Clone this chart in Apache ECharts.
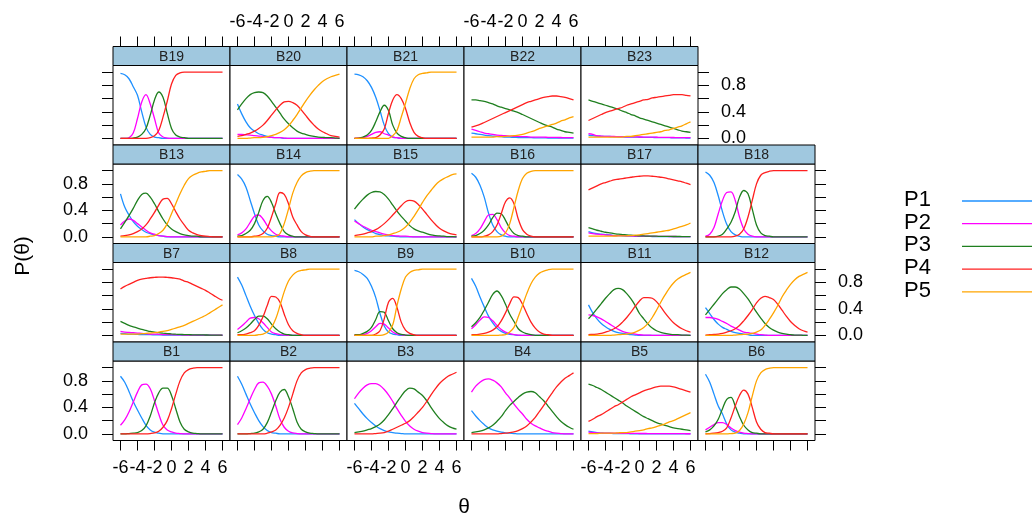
<!DOCTYPE html>
<html>
<head>
<meta charset="utf-8">
<script src="https://cdn.jsdelivr.net/npm/echarts@6/dist/echarts.min.js"></script>
<style>html,body{margin:0;padding:0;background:#fff}#chart{width:1035px;height:521px}</style>
</head>
<body>
<div id="chart"></div>
<script>
// theta grid (x values of every curve)
const theta = [-6,-5.5,-5,-4.5,-4,-3.5,-3,-2.5,-2,-1.5,-1,-0.5,0,0.5,1,1.5,2,2.5,3,3.5,4,4.5,5,5.5,6];
const categories = ['P1','P2','P3','P4','P5'];
const xTicks = [-6,-4,-2,0,2,4,6];
const yTicks = [0,0.2,0.4,0.6,0.8,1.0];
const yLabels = [0,0.4,0.8];

// each item: [P1, P2, P3, P4, P5] values at theta (null = category absent)
const B1 = [
 [0.87,0.78,0.64,0.49,0.36,0.24,0.13,0.06,0.025,0.01,0,0,0,0,0,0,0,0,0,0,0,0,0,0,0],
 [0.13,0.21,0.33,0.48,0.63,0.74,0.75,0.68,0.5,0.3,0.13,0.06,0.03,0.01,0.005,0,0,0,0,0,0,0,0,0,0],
 [0,0,0.005,0.01,0.02,0.05,0.12,0.27,0.47,0.62,0.69,0.69,0.58,0.38,0.18,0.07,0.03,0.01,0.005,0,0,0,0,0,0],
 [0,0,0,0,0,0,0,0.005,0.015,0.04,0.1,0.2,0.38,0.6,0.8,0.92,0.97,0.99,1,1,1,1,1,1,1],
 null];
const B2 = [
 [0.87,0.75,0.6,0.45,0.32,0.2,0.11,0.05,0.02,0.01,0,0,0,0,0,0,0,0,0,0,0,0,0,0,0],
 [0.14,0.24,0.38,0.53,0.67,0.77,0.78,0.72,0.6,0.42,0.22,0.1,0.04,0.015,0.005,0,0,0,0,0,0,0,0,0,0],
 [0,0,0,0.005,0.01,0.03,0.07,0.17,0.33,0.5,0.63,0.67,0.56,0.38,0.18,0.07,0.03,0.01,0.005,0,0,0,0,0,0],
 [0,0,0,0,0,0,0,0.01,0.03,0.06,0.13,0.24,0.4,0.6,0.8,0.92,0.97,0.99,1,1,1,1,1,1,1],
 null];
const B3 = [
 [0.46,0.38,0.3,0.23,0.17,0.12,0.08,0.05,0.03,0.02,0.01,0.005,0,0,0,0,0,0,0,0,0,0,0,0,0],
 [0.53,0.62,0.69,0.74,0.76,0.76,0.73,0.67,0.59,0.49,0.38,0.28,0.19,0.12,0.07,0.04,0.02,0.01,0.005,0,0,0,0,0,0],
 [0.02,0.03,0.04,0.06,0.08,0.11,0.15,0.21,0.29,0.38,0.48,0.57,0.65,0.69,0.68,0.63,0.58,0.5,0.4,0.31,0.23,0.17,0.12,0.09,0.07],
 [0,0,0,0,0,0.005,0.01,0.02,0.04,0.07,0.1,0.13,0.16,0.2,0.26,0.33,0.4,0.49,0.59,0.68,0.76,0.82,0.87,0.9,0.93],
 null];
const B4 = [
 [0.35,0.27,0.2,0.14,0.09,0.06,0.04,0.025,0.015,0.01,0.005,0,0,0,0,0,0,0,0,0,0,0,0,0,0],
 [0.63,0.72,0.78,0.82,0.83,0.81,0.77,0.71,0.62,0.54,0.45,0.37,0.3,0.22,0.16,0.12,0.09,0.06,0.04,0.02,0.01,0.005,0,0,0],
 [0.02,0.03,0.04,0.06,0.09,0.13,0.19,0.26,0.35,0.43,0.49,0.55,0.6,0.63,0.64,0.62,0.56,0.5,0.42,0.34,0.26,0.19,0.14,0.1,0.07],
 [0,0,0,0,0,0,0,0.005,0.01,0.02,0.03,0.05,0.08,0.12,0.18,0.25,0.34,0.43,0.53,0.62,0.71,0.78,0.84,0.88,0.92],
 null];
const B5 = [
 [0.04,0.03,0.02,0.015,0.01,0.01,0.005,0.005,0.005,0.005,0,0,0,0,0,0,0,0,0,0,0,0,0,0,0],
 [0.025,0.02,0.015,0.012,0.01,0.01,0.01,0.01,0.008,0.008,0.007,0.007,0.006,0.006,0.005,0.005,0.005,0.004,0.004,0.004,0.003,0.003,0.003,0.002,0.002],
 [0.75,0.73,0.7,0.67,0.63,0.59,0.55,0.51,0.47,0.42,0.38,0.34,0.3,0.26,0.23,0.2,0.17,0.15,0.13,0.11,0.09,0.08,0.07,0.06,0.05],
 [0.19,0.22,0.26,0.29,0.33,0.37,0.41,0.44,0.48,0.52,0.56,0.59,0.62,0.65,0.67,0.69,0.71,0.72,0.72,0.72,0.71,0.69,0.67,0.65,0.63],
 [0.005,0.005,0.005,0.01,0.01,0.01,0.01,0.015,0.02,0.02,0.03,0.04,0.05,0.06,0.08,0.09,0.11,0.13,0.15,0.18,0.2,0.23,0.26,0.29,0.32]];
const B6 = [
 [0.9,0.78,0.6,0.42,0.3,0.15,0.06,0.025,0.01,0,0,0,0,0,0,0,0,0,0,0,0,0,0,0,0],
 [0.06,0.1,0.14,0.17,0.17,0.14,0.09,0.05,0.025,0.01,0.005,0,0,0,0,0,0,0,0,0,0,0,0,0,0],
 [0.03,0.06,0.12,0.22,0.38,0.52,0.55,0.42,0.26,0.13,0.06,0.02,0.01,0,0,0,0,0,0,0,0,0,0,0,0],
 [0,0.005,0.01,0.02,0.04,0.09,0.24,0.42,0.58,0.66,0.6,0.4,0.18,0.07,0.02,0.01,0,0,0,0,0,0,0,0,0],
 [0,0,0,0,0,0,0.005,0.01,0.05,0.15,0.32,0.57,0.8,0.92,0.97,0.99,1,1,1,1,1,1,1,1,1]];
const B7 = [
 [0.03,0.025,0.02,0.018,0.015,0.012,0.01,0.01,0.008,0.007,0.006,0.005,0.005,0.004,0.004,0.003,0.003,0.003,0.002,0.002,0.002,0.002,0.001,0.001,0.001],
 [0.06,0.05,0.045,0.04,0.035,0.03,0.025,0.02,0.02,0.015,0.012,0.01,0.01,0.008,0.007,0.006,0.005,0.005,0.004,0.004,0.003,0.003,0.003,0.002,0.002],
 [0.21,0.18,0.15,0.13,0.11,0.09,0.075,0.06,0.05,0.04,0.033,0.027,0.022,0.018,0.015,0.012,0.01,0.009,0.008,0.007,0.006,0.005,0.005,0.004,0.004],
 [0.7,0.74,0.77,0.8,0.83,0.85,0.86,0.87,0.875,0.88,0.88,0.875,0.87,0.86,0.85,0.82,0.8,0.77,0.74,0.71,0.68,0.64,0.6,0.56,0.53],
 [0.02,0.02,0.02,0.02,0.02,0.025,0.03,0.035,0.04,0.05,0.06,0.07,0.09,0.11,0.13,0.15,0.18,0.21,0.24,0.27,0.3,0.34,0.38,0.42,0.46]];
const B8 = [
 [0.88,0.76,0.6,0.44,0.3,0.18,0.09,0.04,0.02,0.01,0,0,0,0,0,0,0,0,0,0,0,0,0,0,0],
 [0.09,0.14,0.2,0.26,0.27,0.25,0.19,0.12,0.05,0.025,0.01,0.005,0,0,0,0,0,0,0,0,0,0,0,0,0],
 [0.04,0.07,0.11,0.17,0.24,0.29,0.29,0.25,0.17,0.1,0.05,0.02,0.01,0,0,0,0,0,0,0,0,0,0,0,0],
 [0.01,0.01,0.02,0.04,0.07,0.15,0.28,0.45,0.59,0.58,0.5,0.32,0.16,0.07,0.03,0.01,0,0,0,0,0,0,0,0,0],
 [0,0,0,0,0,0.01,0.02,0.05,0.12,0.25,0.45,0.66,0.82,0.91,0.96,0.98,0.99,1,1,1,1,1,1,1,1]];
const B9 = [
 [0.98,0.96,0.92,0.86,0.74,0.57,0.33,0.14,0.05,0.02,0.01,0,0,0,0,0,0,0,0,0,0,0,0,0,0],
 [0,0.005,0.01,0.03,0.07,0.13,0.18,0.17,0.11,0.05,0.02,0.01,0,0,0,0,0,0,0,0,0,0,0,0,0],
 [0.01,0.01,0.03,0.06,0.12,0.24,0.36,0.35,0.22,0.1,0.04,0.015,0.005,0,0,0,0,0,0,0,0,0,0,0,0],
 [0,0,0,0,0,0.02,0.07,0.25,0.5,0.56,0.42,0.2,0.08,0.03,0.01,0,0,0,0,0,0,0,0,0,0],
 [0,0,0,0,0,0,0,0.01,0.05,0.16,0.45,0.7,0.88,0.95,0.98,0.99,1,1,1,1,1,1,1,1,1]];
const B10 = [
 [0.86,0.74,0.58,0.43,0.29,0.19,0.11,0.06,0.03,0.015,0.01,0,0,0,0,0,0,0,0,0,0,0,0,0,0],
 [0.1,0.16,0.23,0.28,0.27,0.22,0.15,0.09,0.05,0.025,0.01,0.005,0,0,0,0,0,0,0,0,0,0,0,0,0],
 [0.13,0.19,0.27,0.38,0.5,0.62,0.67,0.6,0.47,0.32,0.21,0.1,0.05,0.025,0.01,0,0,0,0,0,0,0,0,0,0],
 [0.01,0.01,0.02,0.03,0.05,0.08,0.13,0.22,0.34,0.48,0.58,0.57,0.47,0.33,0.2,0.11,0.05,0.02,0.01,0,0,0,0,0,0],
 [0,0,0,0,0,0,0,0.005,0.01,0.05,0.12,0.28,0.45,0.63,0.78,0.88,0.94,0.97,0.99,1,1,1,1,1,1]];
const B11 = [
 [0.46,0.34,0.25,0.18,0.13,0.09,0.06,0.04,0.03,0.02,0.01,0.005,0,0,0,0,0,0,0,0,0,0,0,0,0],
 [0.31,0.3,0.28,0.25,0.21,0.17,0.13,0.09,0.06,0.04,0.03,0.02,0.01,0.005,0.005,0,0,0,0,0,0,0,0,0,0],
 [0.25,0.32,0.4,0.48,0.56,0.63,0.69,0.71,0.69,0.63,0.55,0.45,0.33,0.25,0.17,0.11,0.07,0.045,0.03,0.02,0.01,0.01,0.005,0.005,0],
 [0.01,0.015,0.02,0.03,0.05,0.07,0.1,0.14,0.2,0.27,0.35,0.44,0.52,0.57,0.57,0.56,0.51,0.43,0.34,0.26,0.19,0.14,0.1,0.07,0.05],
 [0,0,0,0,0,0,0.005,0.01,0.015,0.02,0.03,0.05,0.08,0.12,0.18,0.27,0.38,0.5,0.61,0.71,0.79,0.85,0.89,0.92,0.95]];
const B12 = [
 [0.42,0.33,0.24,0.17,0.12,0.09,0.06,0.04,0.03,0.02,0.01,0,0,0,0,0,0,0,0,0,0,0,0,0,0],
 [0.27,0.27,0.26,0.24,0.21,0.18,0.14,0.11,0.08,0.05,0.04,0.03,0.02,0.01,0.005,0,0,0,0,0,0,0,0,0,0],
 [0.31,0.39,0.47,0.55,0.63,0.69,0.73,0.73,0.7,0.63,0.55,0.45,0.35,0.26,0.18,0.12,0.08,0.05,0.03,0.02,0.01,0.005,0.005,0,0],
 [0.005,0.01,0.015,0.02,0.03,0.05,0.07,0.1,0.15,0.22,0.3,0.39,0.49,0.56,0.59,0.57,0.54,0.47,0.38,0.29,0.21,0.15,0.1,0.07,0.05],
 [0,0,0,0,0,0,0,0.005,0.01,0.015,0.02,0.03,0.05,0.08,0.15,0.24,0.34,0.45,0.58,0.68,0.77,0.84,0.89,0.92,0.95]];
const B13 = [
 [0.65,0.45,0.33,0.23,0.16,0.11,0.07,0.05,0.03,0.02,0.01,0,0,0,0,0,0,0,0,0,0,0,0,0,0],
 [0.18,0.24,0.27,0.25,0.2,0.15,0.1,0.06,0.04,0.02,0.01,0.005,0,0,0,0,0,0,0,0,0,0,0,0,0],
 [0.12,0.22,0.32,0.43,0.55,0.64,0.66,0.6,0.5,0.38,0.27,0.18,0.12,0.08,0.05,0.03,0.02,0.01,0.01,0,0,0,0,0,0],
 [0.01,0.02,0.03,0.05,0.08,0.12,0.18,0.27,0.37,0.48,0.57,0.58,0.5,0.38,0.27,0.18,0.1,0.06,0.035,0.02,0.01,0.005,0,0,0],
 [0,0,0,0,0,0,0,0.01,0.02,0.05,0.1,0.2,0.35,0.5,0.65,0.78,0.88,0.93,0.96,0.98,0.99,1,1,1,1]];
const B14 = [
 [0.94,0.87,0.75,0.55,0.35,0.18,0.09,0.04,0.02,0.01,0,0,0,0,0,0,0,0,0,0,0,0,0,0,0],
 [0.03,0.06,0.12,0.22,0.31,0.33,0.27,0.17,0.09,0.04,0.02,0.01,0,0,0,0,0,0,0,0,0,0,0,0,0],
 [0.01,0.02,0.05,0.1,0.2,0.37,0.55,0.61,0.52,0.35,0.2,0.08,0.03,0.01,0,0,0,0,0,0,0,0,0,0,0],
 [0,0,0,0,0.01,0.02,0.05,0.13,0.3,0.5,0.67,0.64,0.5,0.3,0.18,0.08,0.03,0.01,0,0,0,0,0,0,0],
 [0,0,0,0,0,0,0,0,0,0.01,0.05,0.2,0.42,0.66,0.82,0.92,0.97,0.99,1,1,1,1,1,1,1]];
const B15 = [
 [0.26,0.2,0.15,0.11,0.08,0.05,0.035,0.02,0.015,0.01,0.005,0,0,0,0,0,0,0,0,0,0,0,0,0,0],
 [0.24,0.2,0.16,0.13,0.1,0.08,0.06,0.04,0.03,0.02,0.015,0.01,0.01,0.005,0,0,0,0,0,0,0,0,0,0,0],
 [0.42,0.5,0.57,0.63,0.67,0.685,0.68,0.64,0.57,0.48,0.39,0.31,0.24,0.17,0.12,0.09,0.07,0.05,0.03,0.02,0.015,0.01,0.005,0.005,0],
 [0.02,0.03,0.04,0.06,0.08,0.11,0.15,0.2,0.26,0.33,0.4,0.47,0.53,0.55,0.54,0.49,0.42,0.34,0.26,0.19,0.13,0.09,0.06,0.04,0.03],
 [0,0,0,0,0,0.01,0.01,0.02,0.03,0.05,0.07,0.1,0.15,0.22,0.31,0.41,0.52,0.62,0.7,0.78,0.84,0.88,0.91,0.94,0.95]];
const B16 = [
 [0.96,0.9,0.78,0.6,0.36,0.18,0.08,0.03,0.01,0,0,0,0,0,0,0,0,0,0,0,0,0,0,0,0],
 [0.02,0.05,0.12,0.23,0.33,0.34,0.26,0.14,0.06,0.02,0.01,0,0,0,0,0,0,0,0,0,0,0,0,0,0],
 [0.01,0.02,0.05,0.1,0.18,0.29,0.36,0.35,0.25,0.13,0.05,0.02,0.01,0,0,0,0,0,0,0,0,0,0,0,0],
 [0,0,0,0.01,0.03,0.08,0.18,0.35,0.53,0.59,0.5,0.27,0.11,0.04,0.01,0,0,0,0,0,0,0,0,0,0],
 [0,0,0,0,0,0,0,0.01,0.06,0.2,0.45,0.7,0.88,0.96,0.99,1,1,1,1,1,1,1,1,1,1]];
const B17 = [
 [0.08,0.06,0.05,0.04,0.035,0.03,0.02,0.02,0.015,0.012,0.01,0.01,0.01,0.008,0.007,0.006,0.005,0.005,0.005,0.004,0.004,0.004,0.003,0.003,0.003],
 [0.06,0.05,0.04,0.035,0.03,0.025,0.02,0.02,0.02,0.015,0.015,0.012,0.01,0.01,0.01,0.008,0.008,0.007,0.007,0.006,0.006,0.005,0.005,0.005,0.005],
 [0.14,0.12,0.1,0.085,0.07,0.06,0.05,0.04,0.035,0.03,0.025,0.02,0.015,0.015,0.01,0.01,0.01,0.008,0.008,0.007,0.006,0.006,0.005,0.005,0.005],
 [0.71,0.74,0.77,0.8,0.82,0.84,0.86,0.87,0.88,0.89,0.9,0.91,0.915,0.92,0.92,0.915,0.91,0.9,0.89,0.875,0.86,0.845,0.83,0.81,0.79],
 [0.01,0.01,0.01,0.01,0.012,0.012,0.013,0.014,0.015,0.017,0.02,0.025,0.03,0.04,0.05,0.06,0.07,0.08,0.09,0.1,0.12,0.14,0.16,0.18,0.21]];
const B18 = [
 [0.98,0.93,0.82,0.62,0.38,0.19,0.08,0.03,0.01,0,0,0,0,0,0,0,0,0,0,0,0,0,0,0,0],
 [0.01,0.04,0.14,0.35,0.55,0.67,0.68,0.55,0.3,0.12,0.04,0.01,0,0,0,0,0,0,0,0,0,0,0,0,0],
 [0,0,0,0.01,0.04,0.12,0.22,0.38,0.6,0.7,0.65,0.42,0.18,0.06,0.02,0.01,0,0,0,0,0,0,0,0,0],
 [0,0,0,0,0,0,0,0.01,0.04,0.12,0.3,0.55,0.8,0.93,0.97,0.99,1,1,1,1,1,1,1,1,1],
 null];
const B19 = [
 [0.98,0.96,0.9,0.78,0.65,0.4,0.17,0.06,0.02,0.01,0,0,0,0,0,0,0,0,0,0,0,0,0,0,0],
 [0,0,0.01,0.08,0.3,0.55,0.66,0.52,0.3,0.08,0.02,0.005,0,0,0,0,0,0,0,0,0,0,0,0,0],
 [0,0,0,0.005,0.02,0.06,0.15,0.35,0.58,0.7,0.62,0.38,0.15,0.05,0.02,0.01,0,0,0,0,0,0,0,0,0],
 [0,0,0,0,0,0,0,0.01,0.04,0.12,0.32,0.56,0.82,0.95,0.99,1,1,1,1,1,1,1,1,1,1],
 null];
const B20 = [
 [0.52,0.37,0.25,0.16,0.11,0.07,0.05,0.03,0.02,0.01,0.01,0,0,0,0,0,0,0,0,0,0,0,0,0,0],
 [0.06,0.06,0.055,0.05,0.04,0.035,0.03,0.02,0.015,0.01,0.01,0.005,0,0,0,0,0,0,0,0,0,0,0,0,0],
 [0.43,0.52,0.6,0.66,0.69,0.7,0.69,0.64,0.56,0.47,0.38,0.29,0.22,0.16,0.11,0.08,0.06,0.04,0.03,0.02,0.015,0.01,0.01,0.005,0],
 [0.03,0.04,0.06,0.08,0.11,0.15,0.2,0.27,0.35,0.43,0.5,0.55,0.56,0.54,0.5,0.43,0.35,0.27,0.2,0.14,0.1,0.07,0.04,0.03,0.02],
 [0,0,0,0.005,0.01,0.01,0.015,0.025,0.04,0.06,0.09,0.13,0.19,0.27,0.36,0.46,0.56,0.65,0.73,0.8,0.86,0.9,0.93,0.95,0.97]];
const B21 = [
 [0.97,0.96,0.93,0.87,0.77,0.62,0.42,0.2,0.07,0.02,0.01,0,0,0,0,0,0,0,0,0,0,0,0,0,0],
 [0,0.005,0.01,0.03,0.06,0.09,0.1,0.07,0.05,0.02,0.01,0,0,0,0,0,0,0,0,0,0,0,0,0,0],
 [0,0.005,0.02,0.05,0.12,0.25,0.4,0.5,0.42,0.2,0.08,0.03,0.01,0,0,0,0,0,0,0,0,0,0,0,0],
 [0,0,0,0,0.005,0.01,0.05,0.14,0.38,0.58,0.66,0.6,0.45,0.24,0.09,0.03,0.01,0,0,0,0,0,0,0,0],
 [0,0,0,0,0,0,0,0,0,0.04,0.12,0.32,0.53,0.75,0.9,0.96,0.98,0.99,1,1,1,1,1,1,1]];
const B22 = [
 [0.08,0.07,0.06,0.05,0.04,0.035,0.03,0.025,0.02,0.018,0.015,0.013,0.012,0.01,0.01,0.009,0.008,0.007,0.006,0.005,0.005,0.004,0.004,0.003,0.003],
 [0.14,0.12,0.1,0.08,0.07,0.06,0.05,0.045,0.04,0.035,0.03,0.03,0.025,0.025,0.02,0.02,0.02,0.018,0.016,0.015,0.014,0.013,0.012,0.011,0.01],
 [0.58,0.58,0.57,0.56,0.54,0.52,0.49,0.47,0.45,0.43,0.41,0.39,0.36,0.33,0.3,0.27,0.24,0.21,0.19,0.17,0.14,0.12,0.1,0.09,0.08],
 [0.17,0.19,0.21,0.24,0.27,0.3,0.33,0.36,0.39,0.42,0.45,0.48,0.51,0.54,0.56,0.58,0.6,0.62,0.63,0.64,0.64,0.63,0.62,0.6,0.58],
 [0.02,0.02,0.02,0.02,0.02,0.02,0.025,0.025,0.03,0.035,0.04,0.05,0.06,0.08,0.1,0.12,0.15,0.17,0.19,0.21,0.23,0.26,0.28,0.31,0.33]];
const B23 = [
 [0.05,0.04,0.035,0.032,0.03,0.028,0.026,0.024,0.022,0.02,0.019,0.018,0.017,0.016,0.015,0.014,0.013,0.012,0.011,0.01,0.009,0.008,0.007,0.006,0.005],
 [0.07,0.06,0.04,0.035,0.03,0.03,0.028,0.026,0.025,0.024,0.023,0.022,0.021,0.02,0.019,0.018,0.017,0.016,0.015,0.014,0.013,0.012,0.011,0.01,0.01],
 [0.58,0.56,0.54,0.52,0.5,0.48,0.46,0.44,0.41,0.39,0.36,0.34,0.31,0.29,0.27,0.25,0.23,0.21,0.19,0.17,0.15,0.13,0.11,0.1,0.09],
 [0.27,0.3,0.33,0.36,0.39,0.41,0.43,0.45,0.47,0.5,0.52,0.54,0.56,0.58,0.59,0.61,0.62,0.63,0.64,0.65,0.66,0.66,0.66,0.65,0.64],
 [0.02,0.02,0.02,0.02,0.02,0.02,0.02,0.02,0.02,0.03,0.03,0.04,0.05,0.06,0.07,0.08,0.09,0.1,0.12,0.13,0.15,0.17,0.19,0.22,0.25]];

const items = [B1,B2,B3,B4,B5,B6,B7,B8,B9,B10,B11,B12,B13,B14,B15,B16,B17,B18,B19,B20,B21,B22,B23];
const itemNames = ['B1','B2','B3','B4','B5','B6','B7','B8','B9','B10','B11','B12','B13','B14','B15','B16','B17','B18','B19','B20','B21','B22','B23'];

// ---- styling / layout ----
const colors = ['#1E90FF','#FF00FF','#1F7F1F','#FF2020','#FFA500'];
const FONT = 'Liberation Sans, Arial, sans-serif';
const X0 = 113, CW = 117, Y0 = 46.5, RH = 98.5, SH = 19, NCOL = 6, NROW = 4;
const XMIN = -6.88, XMAX = 6.88, YMIN = -0.1, YMAX = 1.1;
const STRIP = '#A0C8DF';

const grids = [], xAxes = [], yAxes = [], series = [], graphics = [];
const axisLabelBase = {color:'#000', fontSize:18, fontFamily:FONT};

items.forEach((curves, i) => {
  const r = Math.floor(i / NCOL);
  const c = i % NCOL;
  const row = NROW - 1 - r;
  const left = X0 + c * CW;
  const top = Y0 + row * RH;
  grids.push({left: left, top: top + SH, width: CW, height: RH - SH,
    show: true, borderColor: '#000', borderWidth: 1, backgroundColor: '#fff', containLabel: false});

  const topRow = row === 0, bottomRow = row === NROW - 1;
  const xShow = topRow || bottomRow;
  const xLab = (topRow && (c === 1 || c === 3)) || (bottomRow && (c === 0 || c === 2 || c === 4));
  xAxes.push({type:'value', gridIndex:i, min:XMIN, max:XMAX, show:xShow,
    position: topRow ? 'top' : 'bottom', offset: topRow ? SH : 0,
    axisLine:{show:false, onZero:false}, splitLine:{show:false},
    axisTick:{show:true, customValues:xTicks, length:10, lineStyle:{color:'#000', width:1}},
    axisLabel:Object.assign({}, axisLabelBase, {show:xLab, customValues:xTicks, margin: topRow ? 15 : 19,
      formatter: v => String(v)})});

  const lastInRow = (row === 0) ? (c === 4) : (c === 5);
  const yLeft = c === 0, yRight = lastInRow;
  const yShow = yLeft || yRight;
  const yLab = (yLeft && (row === 1 || row === 3)) || (yRight && (row === 0 || row === 2));
  yAxes.push({type:'value', gridIndex:i, min:YMIN, max:YMAX, show:yShow,
    position: yLeft ? 'left' : 'right',
    axisLine:{show:false, onZero:false}, splitLine:{show:false},
    axisTick:{show:true, customValues:yTicks, length:11, lineStyle:{color:'#000', width:1}},
    axisLabel:Object.assign({}, axisLabelBase, {show:yLab, customValues:yLabels, margin: yLeft ? 25 : 23,
      formatter: v => v.toFixed(1)})});

  curves.forEach((vals, k) => {
    if (!vals) return;
    series.push({type:'line', name:categories[k], xAxisIndex:i, yAxisIndex:i,
      data: theta.map((t, j) => [t, vals[j]]),
      showSymbol:false, smooth:0.35, silent:true, animation:false,
      lineStyle:{color:colors[k], width:1.3}, itemStyle:{color:colors[k]}});
  });

  graphics.push({type:'rect', shape:{x:left, y:top, width:CW, height:SH},
    style:{fill:STRIP, stroke:'#000', lineWidth:1}, z:10});
  graphics.push({type:'text', x:left + CW/2, y:top + SH/2 + 1,
    style:{text:itemNames[i], fill:'#222', font:'14px ' + FONT, textAlign:'center', textVerticalAlign:'middle'}, z:11});
});

// axis titles
graphics.push({type:'text', x:464, y:507, style:{text:'θ', fill:'#000', font:'21px ' + FONT, textAlign:'center', textVerticalAlign:'middle'}});
graphics.push({type:'text', x:23, y:256, rotation:Math.PI/2,
  style:{text:'P(θ)', fill:'#000', font:'21px ' + FONT, textAlign:'center', textVerticalAlign:'middle'}});

// key
categories.forEach((name, k) => {
  const y = 200 + k * 22.7;
  graphics.push({type:'text', x:904, y:y, style:{text:name, fill:'#000', font:'22px ' + FONT, textAlign:'left', textVerticalAlign:'middle'}});
  graphics.push({type:'line', shape:{x1:962, y1:y + 1, x2:1032, y2:y + 1}, style:{stroke:colors[k], lineWidth:1.3}});
});

const chart = echarts.init(document.getElementById('chart'), null, {renderer:'canvas'});
chart.setOption({
  animation:false,
  backgroundColor:'#fff',
  grid:grids, xAxis:xAxes, yAxis:yAxes, series:series,
  graphic:{elements:graphics}
});
</script>
</body>
</html>
